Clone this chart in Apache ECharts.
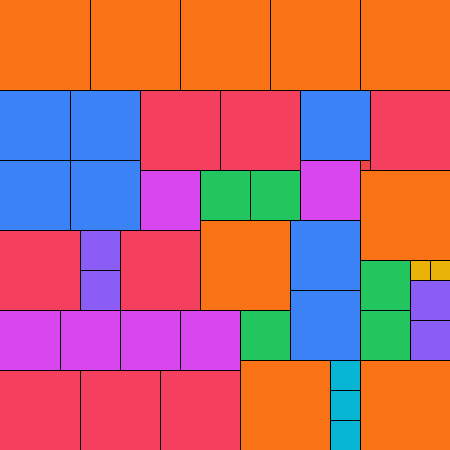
<!DOCTYPE html>
<html><head><meta charset="utf-8">
<script src="https://cdn.jsdelivr.net/npm/echarts@6/dist/echarts.min.js"></script>
<style>html,body{margin:0;padding:0;background:#fff}#c{width:450px;height:450px}</style>
</head><body><div id="c"></div>
<script>
// Squares in puzzle units (side, left, top), grouped by side length
const sqSide = [9,9,9,9,9,9,9,9,9, 8,8,8,8,8,8,8,8, 7,7,7,7,7,7,7, 6,6,6,6,6,6, 5,5,5,5,5, 4,4,4,4, 3,3,3, 2,2, 1];
const sqLeft = [0,9,18,27,36,36,20,24,36, 14,22,37,0,12,0,8,16, 0,7,0,7,30,29,29, 14,30,0,6,12,18, 20,25,36,36,24, 8,8,41,41, 33,33,33, 41,43, 36];
const sqTop  = [0,0,0,0,0,17,22,36,36, 9,9,9,23,23,37,37,37, 9,9,16,16,9,22,29, 17,16,31,31,31,31, 17,17,26,31,31, 23,27,28,32, 36,39,42, 26,26, 16];
const sideColors = {9:'#f97316',8:'#f43f5e',7:'#3b82f6',6:'#d946ef',5:'#22c55e',4:'#8b5cf6',3:'#06b6d4',2:'#eab308',1:'#ef4444'};
const data = sqSide.map((s,i)=>[sqLeft[i], sqTop[i], s]);
const chart = echarts.init(document.getElementById('c'));
function edge(v){ v = Math.round(v); return v <= 0 ? -0.5 : v + 0.5; }
chart.setOption({
  animation:false,
  grid:{left:0,right:0,top:0,bottom:0},
  xAxis:{type:'value',min:0,max:45,show:false},
  yAxis:{type:'value',min:0,max:45,inverse:true,show:false},
  series:[{
    type:'custom',
    data:data,
    renderItem:function(params,api){
      const x=api.value(0), y=api.value(1), s=api.value(2);
      const p0=api.coord([x,y]);
      const p1=api.coord([x+s,y+s]);
      const x0=edge(p0[0]), y0=edge(p0[1]), x1=edge(p1[0]), y1=edge(p1[1]);
      return {type:'rect',shape:{x:x0,y:y0,width:x1-x0,height:y1-y0},
        style:{fill:sideColors[s],stroke:'#000',lineWidth:1}};
    }
  }]
});
</script>
</body></html>
